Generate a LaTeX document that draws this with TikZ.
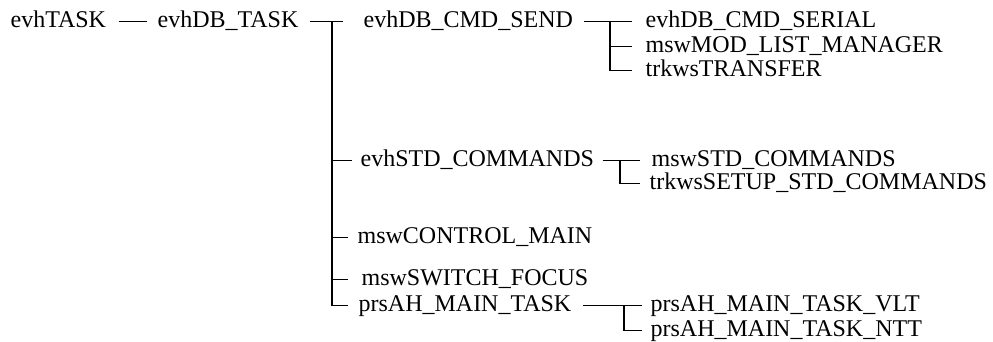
\documentclass[tikz,border=0pt]{standalone}
\usepackage{fontspec}
\setmainfont{Liberation Serif}
\begin{document}
\begin{tikzpicture}[
		x = 1pt, y = -1pt,
		every path/.style = {line width = 1.2pt},
		item/.style = {anchor = base west, inner sep = 0pt, text height = 11pt, text depth = 0pt, font = \rmfamily\fontsize{24pt}{28pt}\selectfont}
	]

	\useasboundingbox (0,0) rectangle (993,341);

	\node (task) [item] at (10,27) {evhTASK};
	\node (dbtask) [item] at (157,27) {evhDB\_TASK};
	\node (send) [item] at (363,27) {evhDB\_CMD\_SEND};
	\node (serial) [item] at (645,27) {evhDB\_CMD\_SERIAL};
	\node (modlist) [item] at (645,52) {mswMOD\_LIST\_MANAGER};
	\node (transfer) [item] at (645,76) {trkwsTRANSFER};
	\node (stdcmd) [item] at (360,166) {evhSTD\_COMMANDS};
	\node (mswstd) [item] at (651,166) {mswSTD\_COMMANDS};
	\node (setup) [item] at (649,189) {trkwsSETUP\_STD\_COMMANDS};
	\node (control) [item] at (357,243) {mswCONTROL\_MAIN};
	\node (switch) [item] at (361,285) {mswSWITCH\_FOCUS};
	\node (maintask) [item] at (358,311) {prsAH\_MAIN\_TASK};
	\node (vlt) [item] at (650,311) {prsAH\_MAIN\_TASK\_VLT};
	\node (ntt) [item] at (650,336) {prsAH\_MAIN\_TASK\_NTT};

	\coordinate (dbfork) at (332,21.5);
	\coordinate (sendfork) at (610,21.5);
	\coordinate (stdfork) at (620,160.5);
	\coordinate (mainfork) at (624,305.5);

	\draw ([xshift=12pt]task.east) -- ([xshift=-10pt]dbtask.west);
	\draw ([xshift=11pt]dbtask.east) -- ([xshift=-20pt]send.west);
	\draw (dbfork) |- ([xshift=-10pt]maintask.west);
	\draw (dbfork |- stdcmd.west) -- ([xshift=-8pt]stdcmd.west);
	\draw (dbfork |- control.west) -- ([xshift=-9pt]control.west);
	\draw (dbfork |- switch.west) -- ([xshift=-13pt]switch.west);

	\draw ([xshift=10pt]send.east) -- ([xshift=-13pt]serial.west);
	\draw (sendfork) |- ([xshift=-13pt]transfer.west);
	\draw (sendfork |- modlist.west) -- ([xshift=-13pt]modlist.west);

	\draw ([xshift=8pt]stdcmd.east) -- ([xshift=-11pt]mswstd.west);
	\draw (stdfork) |- ([xshift=-9pt]setup.west);

	\draw ([xshift=11pt]maintask.east) -- ([xshift=-8pt]vlt.west);
	\draw (mainfork) |- ([xshift=-8pt]ntt.west);
\end{tikzpicture}
\end{document}
